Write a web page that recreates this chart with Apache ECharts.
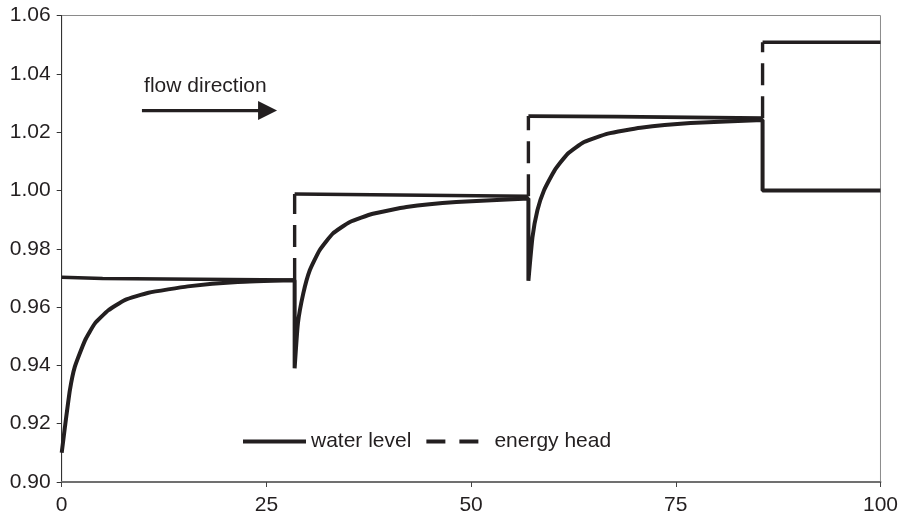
<!DOCTYPE html>
<html>
<head>
<meta charset="utf-8">
<script src="https://cdn.jsdelivr.net/npm/echarts@6/dist/echarts.min.js"></script>
<style>
  html, body { margin: 0; padding: 0; background: #fff; }
  #chart { width: 901px; height: 518px; }
</style>
</head>
<body>
<div id="chart"></div>
<script>
// Water level along the channel: [position, level]; each drop is a vertical step at a section change
const waterLevel = [
  [0, 0.910], [0.4, 0.919], [1.0, 0.9315], [1.6, 0.9395], [2.85, 0.9486], [4.06, 0.9544],
  [5.7, 0.9589], [7.7, 0.9624], [10.6, 0.9649], [15.4, 0.9671], [21.5, 0.9686], [28.45, 0.9692],
  [28.45, 0.9390], [28.85, 0.9544], [29.5, 0.9646], [30.3, 0.9726], [31.5, 0.9795], [33.1, 0.9852],
  [35.2, 0.9892], [38.0, 0.9920], [42.1, 0.9943], [48.2, 0.9960], [57.0, 0.9972],
  [57.0, 0.9690], [57.5, 0.9840], [58.1, 0.9932], [58.9, 1.0000], [60.2, 1.0069], [61.8, 1.0126],
  [63.8, 1.0166], [66.7, 1.0195], [70.7, 1.0215], [76.8, 1.0231], [85.6, 1.0242],
  [85.6, 1.0000], [100, 1.0000]
];

// Energy head level within each reach
const energyReach1 = [[0, 0.9702], [5, 0.9698], [28.45, 0.9693]];
const energyReach2 = [[28.45, 0.9988], [57.0, 0.9980]];
const energyReach3 = [[57.0, 1.0255], [67.8, 1.0253], [85.6, 1.0248]];
const energyReach4 = [[85.6, 1.0508], [100, 1.0508]];

// Energy head jumps between reaches: [position, lower, upper]
const energyJumps = [[28.45, 0.9693, 0.9988], [57.0, 0.9980, 1.0255], [85.6, 1.0248, 1.0508]];

const xTicks = [0, 25, 50, 75, 100];
const yRange = [0.90, 1.06];

const ink = '#231f20';
const font = 'Liberation Sans, Arial, sans-serif';

const chart = echarts.init(document.getElementById('chart'), null, { renderer: 'canvas' });

const series = [
  {
    name: 'water level', type: 'line', data: waterLevel, symbol: 'none', smooth: 0.15,
    lineStyle: { color: ink, width: 4 }, itemStyle: { color: ink }, z: 3
  }
];
[energyReach1, energyReach2, energyReach3, energyReach4].forEach(function (reach, i) {
  series.push({
    name: 'energy head level ' + (i + 1), type: 'line', data: reach, symbol: 'none',
    lineStyle: { color: ink, width: 3.6 }, itemStyle: { color: ink }, z: 2
  });
});
energyJumps.forEach(function (j) {
  series.push({
    name: 'energy head', type: 'line', data: [[j[0], j[1]], [j[0], j[2]]], symbol: 'none',
    lineStyle: { color: ink, width: 3.4, type: [22, 11] }, itemStyle: { color: ink }, z: 2
  });
});

chart.setOption({
  animation: false,
  backgroundColor: '#fff',
  grid: {
    left: 61.7, right: 19.3, top: 15.5, bottom: 36,
    show: true, borderColor: '#8a8a8a', borderWidth: 1
  },
  legend: {
    data: [
      { name: 'water level', icon: 'path://M0,0H63V4H0Z' },
      { name: 'energy head', icon: 'path://M0,0H19V4H0Z M33,0H52V4H33Z M63,0' }
    ],
    left: 243, top: 431, padding: 0,
    itemWidth: 63, itemHeight: 4, itemGap: 15,
    textStyle: { color: ink, fontFamily: font, fontSize: 21 }
  },
  xAxis: {
    type: 'value', min: xTicks[0], max: xTicks[xTicks.length - 1], interval: 25,
    splitLine: { show: false },
    axisLine: { lineStyle: { color: '#707070', width: 2 } },
    axisTick: { show: true, length: 5, lineStyle: { color: '#444', width: 1 } },
    axisLabel: { color: ink, fontFamily: font, fontSize: 21, margin: 13 }
  },
  yAxis: {
    type: 'value', min: yRange[0], max: yRange[1], interval: 0.02,
    splitLine: { show: false },
    axisLine: { show: true, lineStyle: { color: '#333', width: 1 } },
    axisTick: { show: true, length: 5, lineStyle: { color: '#333', width: 1 } },
    axisLabel: {
      color: ink, fontFamily: font, fontSize: 21, margin: 11,
      formatter: function (v) { return v.toFixed(2); }
    }
  },
  series: series
});

// Flow direction note placed in data coordinates
const arrowStart = chart.convertToPixel({ gridIndex: 0 }, [9.8, 1.0274]);
const arrowTip = chart.convertToPixel({ gridIndex: 0 }, [26.3, 1.0274]);
const noteAt = chart.convertToPixel({ gridIndex: 0 }, [17.55, 1.0357]);
chart.setOption({
  graphic: [
    {
      type: 'text', x: noteAt[0], y: noteAt[1],
      style: { text: 'flow direction', fill: ink, font: '21px ' + font, align: 'center', verticalAlign: 'middle' }
    },
    {
      type: 'line',
      shape: { x1: arrowStart[0], y1: arrowStart[1], x2: arrowTip[0] - 16, y2: arrowTip[1] },
      style: { stroke: ink, lineWidth: 3.3 }
    },
    {
      type: 'polygon',
      shape: { points: [[arrowTip[0] - 19, arrowTip[1] - 9.5], [arrowTip[0], arrowTip[1]], [arrowTip[0] - 19, arrowTip[1] + 9.5]] },
      style: { fill: ink }
    }
  ]
});
</script>
</body>
</html>
